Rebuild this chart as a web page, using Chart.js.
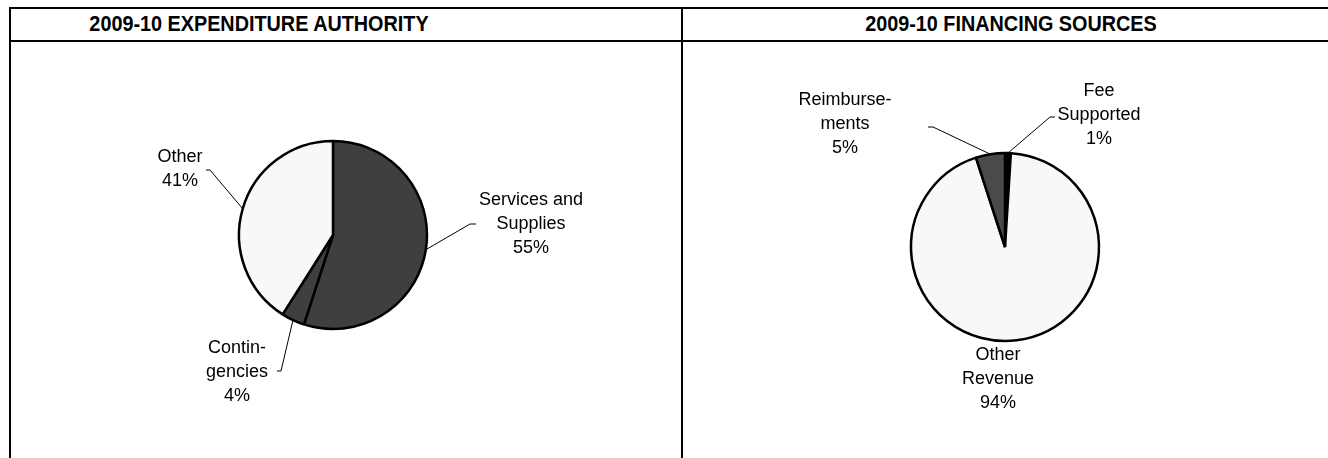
<!DOCTYPE html>
<html>
<head>
<meta charset="utf-8">
<script src="https://cdn.jsdelivr.net/npm/chart.js@4"></script>
<style>
  html, body { margin: 0; padding: 0; background: #fff; }
  body { width: 1328px; height: 458px; position: relative; overflow: hidden; font-family: "Liberation Sans", Arial, sans-serif; }
  .rule { position: absolute; background: #000; }
  .title { position: absolute; top: 11px; font-weight: bold; font-size: 22px; line-height: 26px; white-space: nowrap; transform: translateX(-50%) scaleX(0.9); }
  canvas { position: absolute; }
</style>
</head>
<body>
  <div class="rule" style="left:9px; top:7px; width:1319px; height:2px;"></div>
  <div class="rule" style="left:9px; top:40px; width:1319px; height:2px;"></div>
  <div class="rule" style="left:9px; top:7px; width:2px; height:451px;"></div>
  <div class="rule" style="left:681px; top:7px; width:2px; height:451px;"></div>
  <div class="title" style="left:259px;">2009-10 EXPENDITURE AUTHORITY</div>
  <div class="title" style="left:1011px;">2009-10 FINANCING SOURCES</div>

  <canvas id="expChart" width="520" height="380" style="left:73px; top:45px;"></canvas>
  <canvas id="finChart" width="440" height="380" style="left:785px; top:57px;"></canvas>

<script>
// Expenditure authority
const expenditureLabels = [["Services and", "Supplies"], ["Contin-", "gencies"], ["Other"]];
const expenditureValues = [55, 4, 41];
const expenditureColors = ["#3f3f3f", "#3f3f3f", "#f8f8f8"];

// Financing sources
const financingLabels = [["Fee", "Supported"], ["Other", "Revenue"], ["Reimburse-", "ments"]];
const financingValues = [1, 94, 5];
const financingColors = ["#000000", "#f8f8f8", "#4a4a4a"];

// label placement, relative to pie centre (text = centre of first line)
const expenditurePlacement = [
  { text: [198, -35], knee: [137, -11], end: [143, -11] },
  { text: [-96, 113], knee: [-52, 136], end: [-56, 136] },
  { text: [-153, -78], knee: [-123, -65], end: [-127, -65] },
];
const financingPlacement = [
  { text: [94, -156], knee: [45, -130], end: [50, -130] },
  { text: [-7, 108] },
  { text: [-160, -147], knee: [-72, -120], end: [-77, -120] },
];

const leaderLabels = {
  id: "leaderLabels",
  afterDatasetsDraw(chart, args, opts) {
    const ctx = chart.ctx;
    const meta = chart.getDatasetMeta(0);
    const values = chart.data.datasets[0].data;
    const total = values.reduce((a, b) => a + b, 0);
    ctx.save();
    ctx.font = "18px 'Liberation Sans', Arial, sans-serif";
    ctx.fillStyle = "#000";
    ctx.strokeStyle = "#000";
    ctx.lineWidth = 1;
    ctx.textAlign = "center";
    ctx.textBaseline = "middle";
    meta.data.forEach((arc, i) => {
      const p = opts.placement[i];
      const cx = arc.x, cy = arc.y;
      if (p.knee) {
        const mid = (arc.startAngle + arc.endAngle) / 2;
        const r = arc.outerRadius;
        ctx.beginPath();
        ctx.moveTo(cx + Math.cos(mid) * r, cy + Math.sin(mid) * r);
        ctx.lineTo(cx + p.knee[0], cy + p.knee[1]);
        ctx.lineTo(cx + p.end[0], cy + p.end[1]);
        ctx.stroke();
      }
      const lines = opts.names[i].concat(Math.round(values[i] / total * 100) + "%");
      lines.forEach((t, j) => ctx.fillText(t, cx + p.text[0], cy + p.text[1] + j * 24));
    });
    ctx.restore();
  },
};

function makePie(id, names, values, colors, placement) {
  return new Chart(document.getElementById(id), {
    type: "pie",
    data: {
      labels: names.map((n) => n.join(" ")),
      datasets: [{
        data: values,
        backgroundColor: colors,
        borderColor: "#000",
        borderWidth: 2.5,
      }],
    },
    options: {
      responsive: false,
      animation: false,
      radius: 94,
      layout: { padding: 0 },
      events: [],
      plugins: {
        legend: { display: false },
        tooltip: { enabled: false },
        leaderLabels: { names: names, placement: placement },
      },
    },
    plugins: [leaderLabels],
  });
}

makePie("expChart", expenditureLabels, expenditureValues, expenditureColors, expenditurePlacement);
makePie("finChart", financingLabels, financingValues, financingColors, financingPlacement);
</script>
</body>
</html>
